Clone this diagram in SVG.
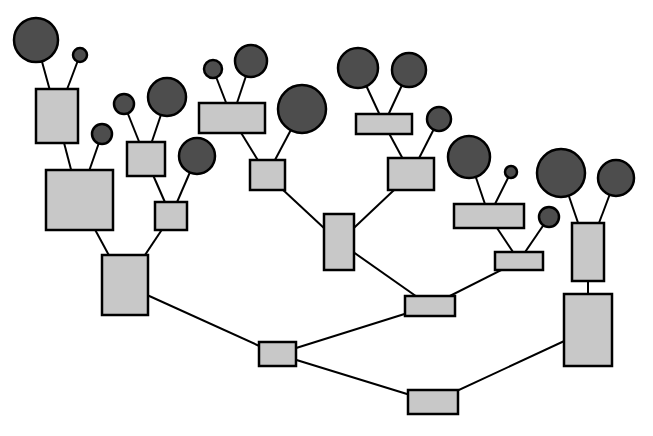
<svg xmlns="http://www.w3.org/2000/svg" width="653" height="436" viewBox="0 0 653 436">
<style>
.r{fill:#c8c8c8;stroke:#000;stroke-width:2.5}
.c{fill:#4d4d4d;stroke:#000;stroke-width:2.5}
#edges line{stroke:#000;stroke-width:2}
</style>
<rect width="653" height="436" fill="#fff"/>
<g id="edges">
<line x1="433" y1="402" x2="277" y2="354"/>
<line x1="433" y1="402" x2="588" y2="330"/>
<line x1="277" y1="354" x2="125" y2="285"/>
<line x1="277" y1="354" x2="430" y2="306"/>
<line x1="430" y1="306" x2="339" y2="242"/>
<line x1="430" y1="306" x2="519" y2="261"/>
<line x1="125" y1="285" x2="79" y2="200"/>
<line x1="125" y1="285" x2="171" y2="216"/>
<line x1="79" y1="200" x2="57" y2="116"/>
<line x1="79" y1="200" x2="102" y2="134"/>
<line x1="57" y1="116" x2="36" y2="40"/>
<line x1="57" y1="116" x2="80" y2="55"/>
<line x1="171" y1="216" x2="146" y2="159"/>
<line x1="171" y1="216" x2="197" y2="156"/>
<line x1="146" y1="159" x2="124" y2="104"/>
<line x1="146" y1="159" x2="167" y2="97"/>
<line x1="339" y1="242" x2="267" y2="175"/>
<line x1="339" y1="242" x2="411" y2="174"/>
<line x1="267" y1="175" x2="232" y2="118"/>
<line x1="267" y1="175" x2="302" y2="109"/>
<line x1="232" y1="118" x2="213" y2="69"/>
<line x1="232" y1="118" x2="251" y2="61"/>
<line x1="411" y1="174" x2="384" y2="124"/>
<line x1="411" y1="174" x2="439" y2="119"/>
<line x1="384" y1="124" x2="358" y2="68"/>
<line x1="384" y1="124" x2="409" y2="70"/>
<line x1="519" y1="261" x2="489" y2="216"/>
<line x1="519" y1="261" x2="549" y2="217"/>
<line x1="489" y1="216" x2="469" y2="157"/>
<line x1="489" y1="216" x2="511" y2="172"/>
<line x1="588" y1="330" x2="588" y2="252"/>
<line x1="588" y1="252" x2="561" y2="173"/>
<line x1="588" y1="252" x2="616" y2="178"/>
</g>
<g id="root"><rect class="r" x="408" y="390" width="50" height="24"/></g>
<g id="n1"><rect class="r" x="259" y="342" width="37" height="24"/></g>
<g id="n2"><rect class="r" x="564" y="294" width="48" height="72"/></g>
<g id="n3"><rect class="r" x="572" y="223" width="32" height="58"/></g>
<g id="n4"><rect class="r" x="405" y="296" width="50" height="20"/></g>
<g id="n5"><rect class="r" x="102" y="255" width="46" height="60"/></g>
<g id="n6"><rect class="r" x="46" y="170" width="67" height="60"/></g>
<g id="n7"><rect class="r" x="36" y="89" width="42" height="54"/></g>
<g id="n8"><rect class="r" x="155" y="202" width="32" height="28"/></g>
<g id="n9"><rect class="r" x="127" y="142" width="38" height="34"/></g>
<g id="n10"><rect class="r" x="324" y="214" width="30" height="56"/></g>
<g id="n11"><rect class="r" x="250" y="160" width="35" height="30"/></g>
<g id="n12"><rect class="r" x="199" y="103" width="66" height="30"/></g>
<g id="n13"><rect class="r" x="388" y="158" width="46" height="32"/></g>
<g id="n14"><rect class="r" x="356" y="114" width="56" height="20"/></g>
<g id="n15"><rect class="r" x="495" y="252" width="48" height="18"/></g>
<g id="n16"><rect class="r" x="454" y="204" width="70" height="24"/></g>
<g id="c1"><circle class="c" cx="36" cy="40" r="22"/></g>
<g id="c2"><circle class="c" cx="80" cy="55" r="7"/></g>
<g id="c3"><circle class="c" cx="102" cy="134" r="10"/></g>
<g id="c4"><circle class="c" cx="124" cy="104" r="10"/></g>
<g id="c5"><circle class="c" cx="167" cy="97" r="19"/></g>
<g id="c6"><circle class="c" cx="197" cy="156" r="18"/></g>
<g id="c7"><circle class="c" cx="213" cy="69" r="9"/></g>
<g id="c8"><circle class="c" cx="251" cy="61" r="16"/></g>
<g id="c9"><circle class="c" cx="302" cy="109" r="24"/></g>
<g id="c10"><circle class="c" cx="358" cy="68" r="20"/></g>
<g id="c11"><circle class="c" cx="409" cy="70" r="17"/></g>
<g id="c12"><circle class="c" cx="439" cy="119" r="12"/></g>
<g id="c13"><circle class="c" cx="469" cy="157" r="21"/></g>
<g id="c14"><circle class="c" cx="511" cy="172" r="6"/></g>
<g id="c15"><circle class="c" cx="549" cy="217" r="10"/></g>
<g id="c16"><circle class="c" cx="561" cy="173" r="24"/></g>
<g id="c17"><circle class="c" cx="616" cy="178" r="18"/></g>
</svg>
